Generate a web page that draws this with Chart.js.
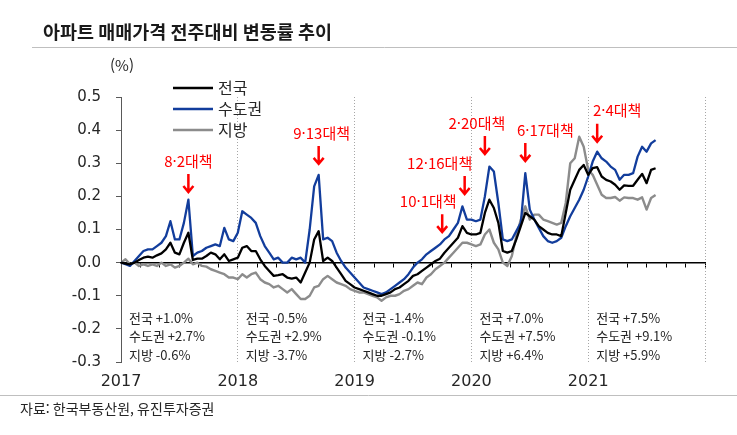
<!DOCTYPE html>
<html lang="ko">
<head>
<meta charset="utf-8">
<script src="https://cdn.jsdelivr.net/npm/chart.js@4.4.1/dist/chart.umd.min.js"></script>
<style>
  html, body { margin: 0; padding: 0; background: #fff; }
  #wrap { width: 737px; height: 435px; position: relative; }
</style>
</head>
<body>
<div id="wrap"><canvas id="chart"></canvas></div>
<script>
// weeks since the first week of 2017 (sampled every 2 weeks)
const weeks = Array.from({ length: 120 }, (_, i) => i * 2);

const seriesNames = ["전국", "수도권", "지방"];

// 전국
const nationwide = [
  0.0, -0.003, -0.005, 0.0, 0.008, 0.015, 0.018, 0.015, 0.022, 0.028,
  0.04, 0.06, 0.03, 0.025, 0.06, 0.09, 0.008, 0.012, 0.012, 0.02,
  0.03, 0.025, 0.01, 0.025, 0.005, 0.01, 0.015, 0.045, 0.05, 0.035,
  0.035, 0.01, -0.01, -0.025, -0.04, -0.038, -0.035, -0.045, -0.048, -0.045,
  -0.06, -0.03, 0.0, 0.07, 0.095, 0.005, 0.015, 0.005, -0.015, -0.035,
  -0.055, -0.065, -0.075, -0.08, -0.085, -0.09, -0.095, -0.1, -0.1, -0.095,
  -0.09, -0.08, -0.075, -0.065, -0.055, -0.04, -0.035, -0.025, -0.015, -0.005,
  0.005, 0.012, 0.03, 0.045, 0.06, 0.075, 0.11, 0.09, 0.085, 0.085,
  0.09, 0.15, 0.19, 0.165, 0.12, 0.035, 0.03, 0.035, 0.07, 0.11,
  0.15, 0.14, 0.13, 0.11, 0.1, 0.09, 0.085, 0.085, 0.08, 0.15,
  0.22, 0.25, 0.28, 0.295, 0.265, 0.285, 0.288, 0.26, 0.25, 0.245,
  0.235, 0.22, 0.233, 0.232, 0.232, 0.25, 0.268, 0.24, 0.28, 0.285
];

// 수도권
const capital = [
  0.0, -0.005, -0.01, 0.005, 0.02, 0.035, 0.04, 0.04, 0.05, 0.06,
  0.08, 0.125, 0.07, 0.07, 0.12, 0.19, 0.02, 0.03, 0.035, 0.045,
  0.05, 0.055, 0.05, 0.105, 0.07, 0.065, 0.09, 0.155, 0.145, 0.135,
  0.12, 0.08, 0.05, 0.03, 0.01, 0.015, 0.0, 0.0, 0.015, 0.01,
  0.015, 0.0, 0.1, 0.23, 0.265, 0.07, 0.075, 0.065, 0.03, 0.005,
  -0.015, -0.03, -0.045, -0.06, -0.075, -0.08, -0.085, -0.09, -0.095, -0.09,
  -0.08, -0.07, -0.06, -0.05, -0.035, -0.015, 0.0, 0.01, 0.025, 0.035,
  0.045, 0.055, 0.07, 0.08, 0.1, 0.12, 0.17, 0.13, 0.13, 0.125,
  0.13, 0.2, 0.29, 0.275, 0.18, 0.07, 0.065, 0.07, 0.095, 0.12,
  0.27, 0.16, 0.13, 0.105, 0.08, 0.065, 0.06, 0.065, 0.075, 0.11,
  0.14, 0.165, 0.19, 0.22, 0.26, 0.305, 0.335, 0.315, 0.305, 0.29,
  0.28, 0.25, 0.265, 0.265, 0.27, 0.32, 0.35, 0.335, 0.36, 0.37
];

// 지방
const regional = [
  0.0, 0.01, -0.005, 0.0, -0.01, -0.005, -0.01, -0.005, -0.01, 0.0,
  -0.01, -0.005, -0.015, -0.01, 0.0, 0.012, -0.005, 0.0, -0.01, -0.012,
  -0.02, -0.025, -0.03, -0.035, -0.045, -0.045, -0.05, -0.035, -0.045, -0.035,
  -0.03, -0.05, -0.06, -0.065, -0.075, -0.07, -0.08, -0.09, -0.08, -0.095,
  -0.11, -0.11, -0.1, -0.075, -0.07, -0.05, -0.04, -0.05, -0.06, -0.065,
  -0.07, -0.08, -0.085, -0.09, -0.09, -0.095, -0.1, -0.105, -0.115, -0.105,
  -0.1, -0.1, -0.095, -0.085, -0.08, -0.07, -0.06, -0.065, -0.045, -0.035,
  -0.02, -0.01, 0.0, 0.015, 0.03, 0.045, 0.06, 0.06, 0.055, 0.05,
  0.055, 0.085, 0.1, 0.06, 0.04, 0.0, -0.01, 0.02, 0.08, 0.13,
  0.17, 0.13, 0.145, 0.145, 0.13, 0.125, 0.12, 0.115, 0.12, 0.18,
  0.3, 0.315, 0.38, 0.35, 0.28, 0.265, 0.235, 0.205, 0.195, 0.195,
  0.198, 0.187, 0.197, 0.195, 0.195, 0.19, 0.197, 0.16, 0.195, 0.204
];

const years = [2017, 2018, 2019, 2020, 2021];
const yTicks = [-0.3, -0.2, -0.1, 0.0, 0.1, 0.2, 0.3, 0.4, 0.5];

const policyNames = ["8·2대책", "9·13대책", "10·1대책", "12·16대책", "2·20대책", "6·17대책", "2·4대책"];
const policyWeeks = [30, 88, 143, 153, 162, 180, 212];

const yearSummary = [
  ["전국 +1.0%", "수도권 +2.7%", "지방 -0.6%"],
  ["전국 -0.5%", "수도권 +2.9%", "지방 -3.7%"],
  ["전국 -1.4%", "수도권 -0.1%", "지방 -2.7%"],
  ["전국 +7.0%", "수도권 +7.5%", "지방 +6.4%"],
  ["전국 +7.5%", "수도권 +9.1%", "지방 +5.9%"]
];

const FONT = '"Noto Sans CJK KR", "Noto Sans", sans-serif';
const NUM_FONT = '"DejaVu Sans", "Noto Sans", sans-serif';
const colors = ["#000000", "#123d9c", "#8c8c8c"];
const WEEKS_PER_YEAR = 52;

// arrow tip values and label offsets for the policy markers
const arrowTips = [0.21, 0.295, 0.089, 0.204, 0.325, 0.304, 0.362];
const labelShift = [0, 3, -14, -25, -8, 20, 20];

const decor = {
  id: "decor",
  afterDraw(chart) {
    const c = chart.ctx;
    const xs = chart.scales.x;
    const ys = chart.scales.y;
    const area = chart.chartArea;
    c.save();

    // title + separators
    c.fillStyle = "#1a1a1a";
    c.font = "bold 18.5px " + FONT;
    c.textBaseline = "middle";
    c.textAlign = "left";
    c.fillText("아파트 매매가격 전주대비 변동률 추이", 43, 32);
    c.strokeStyle = "#bfbfbf";
    c.lineWidth = 1;
    c.beginPath();
    c.moveTo(32, 47.5); c.lineTo(737, 47.5);
    c.moveTo(0, 395.5); c.lineTo(737, 395.5);
    c.stroke();

    // unit
    c.fillStyle = "#262626";
    c.font = "15px " + FONT;
    c.fillText("(%)", 110, 65);

    // legend
    const legY = [88, 109, 130];
    seriesNames.forEach((name, i) => {
      c.strokeStyle = colors[i];
      c.lineWidth = 2.5;
      c.beginPath();
      c.moveTo(173, legY[i]); c.lineTo(213, legY[i]);
      c.stroke();
      c.fillStyle = "#262626";
      c.font = "16px " + FONT;
      c.fillText(name, 218, legY[i]);
    });

    // policy markers
    c.font = "15px " + FONT;
    c.textAlign = "center";
    policyNames.forEach((name, i) => {
      const x = xs.getPixelForValue(policyWeeks[i]);
      const tip = ys.getPixelForValue(arrowTips[i]);
      const top = tip - 19;
      c.strokeStyle = "#ff0000";
      c.fillStyle = "#ff0000";
      c.lineWidth = 2.5;
      c.beginPath();
      c.moveTo(x, top); c.lineTo(x, tip - 1);
      c.moveTo(x - 5, tip - 7); c.lineTo(x, tip - 1); c.lineTo(x + 5, tip - 7);
      c.stroke();
      c.fillText(name, x + labelShift[i], top - 13);
    });

    // yearly change summaries
    c.textAlign = "left";
    c.fillStyle = "#262626";
    c.font = "13px " + FONT;
    yearSummary.forEach((rows, i) => {
      const x = xs.getPixelForValue(i * WEEKS_PER_YEAR) + 8;
      rows.forEach((t, j) => c.fillText(t, x, area.bottom - 44 + j * 18.5));
    });

    // source
    c.font = "14px " + FONT;
    c.fillStyle = "#262626";
    c.fillText("자료: 한국부동산원, 유진투자증권", 20, 409);
    c.restore();
  }
};

const toPoints = vals => weeks.map((w, i) => ({ x: w, y: vals[i] }));

new Chart(document.getElementById("chart"), {
  type: "line",
  data: {
    datasets: [
      { label: seriesNames[0], data: toPoints(nationwide), borderColor: colors[0], borderWidth: 2.3, order: 0 },
      { label: seriesNames[1], data: toPoints(capital), borderColor: colors[1], borderWidth: 2.3, order: 1 },
      { label: seriesNames[2], data: toPoints(regional), borderColor: colors[2], borderWidth: 2.4, order: 2 }
    ].map(d => Object.assign(d, { xAxisID: "x", yAxisID: "y", pointRadius: 0, tension: 0, fill: false, borderJoinStyle: "round" }))
  },
  options: {
    responsive: true,
    maintainAspectRatio: false,
    animation: false,
    layout: { padding: { left: 51, right: 32, top: 97, bottom: 33 } },
    plugins: { legend: { display: false }, tooltip: { enabled: false } },
    scales: {
      x: {
        type: "linear",
        min: 0,
        max: years.length * WEEKS_PER_YEAR,
        position: { y: 0 },
        afterFit(s) { s.height = 0; },
        afterBuildTicks(s) {
          const t = [];
          for (let m = 0; m <= years.length * 12; m += 2) t.push({ value: m * WEEKS_PER_YEAR / 12 });
          s.ticks = t;
        },
        ticks: { display: false },
        grid: { drawOnChartArea: false, tickLength: 4, color: "#000000", lineWidth: 1 },
        border: { color: "#000000", width: 1.5 }
      },
      year: {
        type: "linear",
        axis: "x",
        position: "bottom",
        min: 0,
        max: years.length * WEEKS_PER_YEAR,
        afterFit(s) { s.height = 40; },
        afterBuildTicks(s) {
          s.ticks = years.concat([years[years.length - 1] + 1]).map((y, i) => ({ value: i * WEEKS_PER_YEAR }));
        },
        ticks: {
          autoSkip: false,
          maxRotation: 0,
          padding: 10,
          color: "#262626",
          font: { family: NUM_FONT, size: 16 },
          callback: (v, i) => (i < years.length ? String(years[i]) : "")
        },
        grid: {
          drawTicks: false,
          lineWidth: 1,
          color: ctx => (ctx.tick && ctx.tick.value === 0 ? "rgba(0,0,0,0)" : "#a6a6a6")
        },
        border: { display: false, dash: [1, 2] }
      },
      y: {
        min: -0.3,
        max: 0.5,
        afterFit(s) { s.width = 70; },
        afterBuildTicks(s) { s.ticks = yTicks.map(v => ({ value: v })); },
        ticks: {
          padding: 15,
          color: "#262626",
          font: { family: NUM_FONT, size: 15 },
          callback: v => (Math.abs(v) < 1e-9 ? "0.0" : v.toFixed(1))
        },
        grid: { drawOnChartArea: false, tickLength: 5, color: "#595959" },
        border: { color: "#595959", width: 1 }
      }
    }
  },
  plugins: [decor]
});
</script>
</body>
</html>
